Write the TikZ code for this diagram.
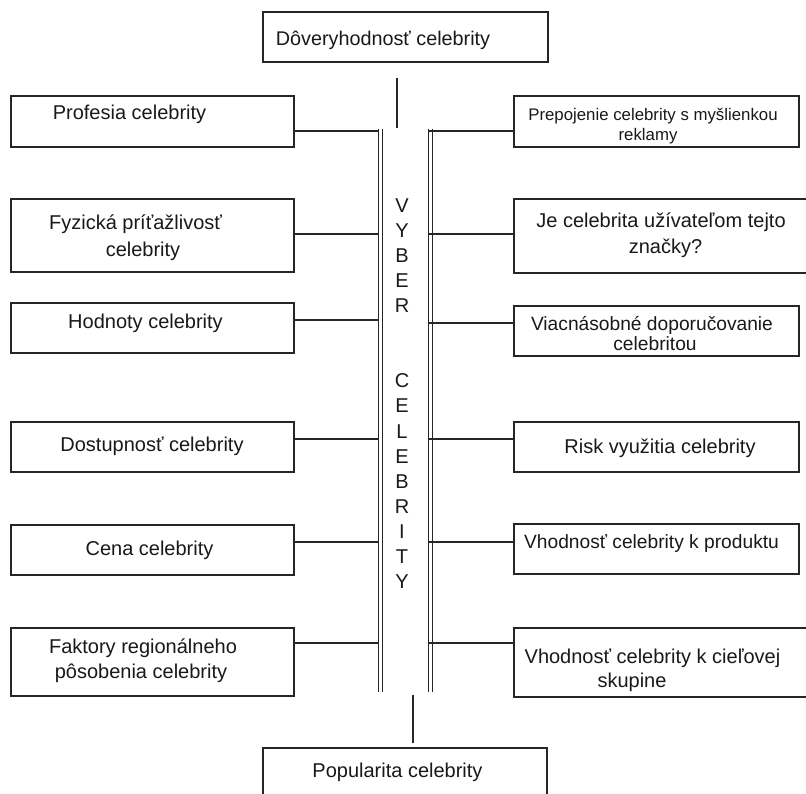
\documentclass[tikz,border=0pt]{standalone}
\usepackage{fontspec}
\setmainfont{Liberation Sans}
\begin{document}
\begin{tikzpicture}[x=1pt,y=-1pt,
  box/.style={draw=black!85, line width=1.1pt, rectangle, inner sep=0pt, outer sep=0pt, anchor=north west},
  txt/.style={anchor=base, inner sep=0pt, text=black!90, font=\fontsize{20}{24}\selectfont},
  smalltxt/.style={txt, font=\fontsize{16.8}{20}\selectfont},
  midtxt/.style={txt, font=\fontsize{19.2}{22}\selectfont},
  letter/.style={anchor=center, inner sep=0pt, text=black!90, font=\fontsize{20}{24}\selectfont},
  ln/.style={draw=black!85, line width=1.1pt},
  busline/.style={draw=black!85, line width=1pt}]
\useasboundingbox (0,0) rectangle (806,793);
\clip (0,0) rectangle (806,793);
\fill[white] (0,0) rectangle (806,793);

% top and bottom boxes
\node[box, minimum width=285pt, minimum height=50pt] (top) at (263,12) {};
\node[box, minimum width=284pt, minimum height=60pt] (bot) at (263,748) {};

% left boxes
\node[box, minimum width=283pt, minimum height=51pt] (L1) at (11,96) {};
\node[box, minimum width=283pt, minimum height=73pt] (L2) at (11,199) {};
\node[box, minimum width=283pt, minimum height=50pt] (L3) at (11,303) {};
\node[box, minimum width=283pt, minimum height=50pt] (L4) at (11,422) {};
\node[box, minimum width=283pt, minimum height=50pt] (L5) at (11,525) {};
\node[box, minimum width=283pt, minimum height=68pt] (L6) at (11,628) {};

% right boxes
\node[box, minimum width=285pt, minimum height=51pt] (R1) at (514,96) {};
\node[box, minimum width=300pt, minimum height=74pt] (R2) at (514,199) {};
\node[box, minimum width=285pt, minimum height=50pt] (R3) at (514,306) {};
\node[box, minimum width=285pt, minimum height=50pt] (R4) at (514,422) {};
\node[box, minimum width=285pt, minimum height=50pt] (R5) at (514,524) {};
\node[box, minimum width=300pt, minimum height=69pt] (R6) at (514,628) {};

% bus lines
\coordinate (busL) at (378,0);
\coordinate (busLb) at (382,0);
\coordinate (busR) at (428,0);
\coordinate (busRb) at (432,0);
\coordinate (busTop) at (0,128.5);
\coordinate (busBot) at (0,692);
\draw[busline] (busL |- busTop) -- (busL |- busBot);
\draw[busline] (busLb |- busTop) -- (busLb |- busBot);
\draw[busline] (busR |- busTop) -- (busR |- busBot);
\draw[busline] (busRb |- busTop) -- (busRb |- busBot);

% stubs
\coordinate (st1) at (397,78);
\coordinate (st2) at (397,128);
\coordinate (sb1) at (413,695);
\coordinate (sb2) at (413,743);
\draw[ln] (st1) -- (st2);
\draw[ln] (sb1) -- (sb2);

% left connectors
\draw[ln] (L1.north east) ++(0,35) coordinate (a1) -- (a1 -| busL);
\draw[ln] (L2.north east) ++(0,35) coordinate (a2) -- (a2 -| busL);
\draw[ln] (L3.north east) ++(0,17) coordinate (a3) -- (a3 -| busL);
\draw[ln] (L4.north east) ++(0,17) coordinate (a4) -- (a4 -| busL);
\draw[ln] (L5.north east) ++(0,17) coordinate (a5) -- (a5 -| busL);
\draw[ln] (L6.north east) ++(0,15) coordinate (a6) -- (a6 -| busL);

% right connectors
\draw[ln] (R1.north west) ++(0,35) coordinate (b1) -- (b1 -| busR);
\draw[ln] (R2.north west) ++(0,35) coordinate (b2) -- (b2 -| busR);
\draw[ln] (R3.north west) ++(0,17) coordinate (b3) -- (b3 -| busR);
\draw[ln] (R4.north west) ++(0,17) coordinate (b4) -- (b4 -| busR);
\draw[ln] (R5.north west) ++(0,18) coordinate (b5) -- (b5 -| busR);
\draw[ln] (R6.north west) ++(0,15) coordinate (b6) -- (b6 -| busR);

% texts
\node[txt, font=\fontsize{19.8}{24}\selectfont] (tTop) at (383,45) {Dôveryhodnosť celebrity};
\node[txt] (tBot) at (397.5,777) {Popularita celebrity};

\node[txt] (tL1) at (129.5,119) {Profesia celebrity};
\node[txt] (tL2a) at (135.5,229) {Fyzická príťažlivosť};
\node[txt] (tL2b) at (143,256) {celebrity};
\node[txt] (tL3) at (145.5,328) {Hodnoty celebrity};
\node[txt] (tL4) at (152,451) {Dostupnosť celebrity};
\node[txt] (tL5) at (149.5,555) {Cena celebrity};
\node[txt] (tL6a) at (143,653) {Faktory regionálneho};
\node[txt] (tL6b) at (141,678) {pôsobenia celebrity};

\node[smalltxt] (tR1a) at (653,120) {Prepojenie celebrity s myšlienkou};
\node[smalltxt] (tR1b) at (648,140) {reklamy};
\node[txt] (tR2a) at (661,227) {Je celebrita užívateľom tejto};
\node[txt] (tR2b) at (665.5,253) {značky?};
\node[midtxt] (tR3a) at (652,330) {Viacnásobné doporučovanie};
\node[midtxt] (tR3b) at (655,350) {celebritou};
\node[txt] (tR4) at (660,453) {Risk využitia celebrity};
\node[midtxt] (tR5) at (651.5,548) {Vhodnosť celebrity k produktu};
\node[txt] (tR6a) at (652.5,663) {Vhodnosť celebrity k cieľovej};
\node[txt] (tR6b) at (632,687) {skupine};

% vertical label
\foreach \l/\k in {V/0,Y/1,B/2,E/3,R/4,C/7,E/8,L/9,E/10,B/11,R/12,I/13,T/14,Y/15}{
  \node[letter] (vl\k) at (402,205.5+25.07*\k) {\l};
}
\end{tikzpicture}
\end{document}
